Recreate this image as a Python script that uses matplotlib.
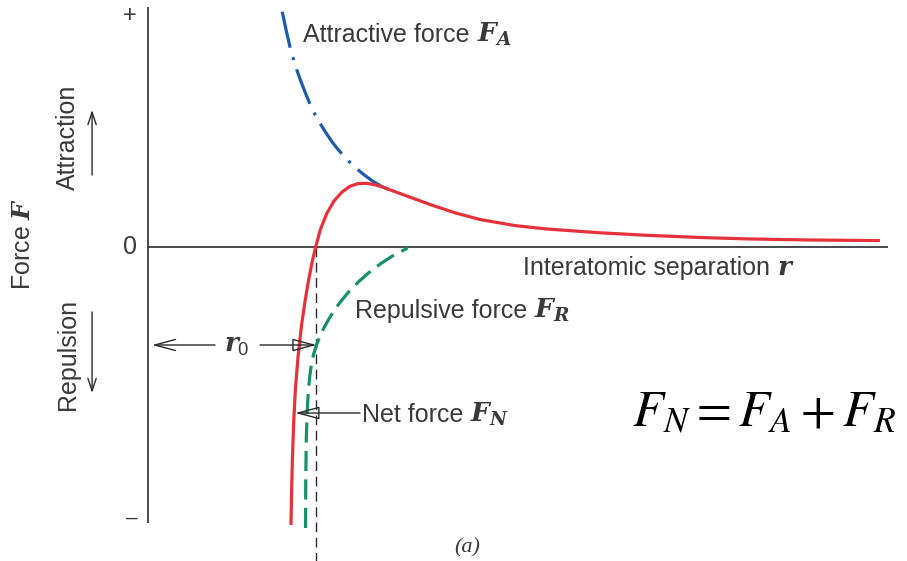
import matplotlib
matplotlib.use("Agg")
import matplotlib.pyplot as plt
from matplotlib.patches import FancyArrowPatch

plt.rcParams['lines.scale_dashes'] = False
plt.rcParams['mathtext.fontset'] = 'custom'
plt.rcParams['mathtext.it'] = 'DejaVu Serif:italic:bold'
plt.rcParams['mathtext.rm'] = 'Liberation Sans'
plt.rcParams['mathtext.bf'] = 'DejaVu Serif:bold'

# ---- data (arbitrary units: r0 = 1) ----
net_r = [0.851, 0.855, 0.860, 0.867, 0.877, 0.893, 0.914, 0.936, 0.956, 0.977,
         0.998, 1.025, 1.064, 1.107, 1.155, 1.202, 1.250, 1.298, 1.345, 1.393,
         1.440, 1.500, 1.560, 1.679, 1.827, 1.976, 2.185, 2.375, 2.690, 2.970,
         3.286, 3.565, 3.940, 4.357]
net_F = [-5.56, -4.86, -4.20, -3.52, -2.86, -2.20, -1.56, -1.06, -0.66, -0.30,
         0.00, 0.34, 0.67, 0.92, 1.10, 1.214, 1.268, 1.274, 1.25, 1.204,
         1.144, 1.07, 0.996, 0.85, 0.684, 0.55, 0.428, 0.36, 0.284, 0.234,
         0.19, 0.162, 0.14, 0.128]

att_r = [0.799, 0.821, 0.845, 0.863, 0.885, 0.905, 0.935, 0.964, 0.994, 1.024,
         1.060, 1.095, 1.131, 1.167, 1.202, 1.242, 1.286, 1.333, 1.387, 1.452]
att_F = [4.706, 4.354, 4.006, 3.79, 3.55, 3.36, 3.096, 2.86, 2.652, 2.474,
         2.28, 2.106, 1.952, 1.814, 1.692, 1.566, 1.444, 1.328, 1.218, 1.12]

rep_r = [0.938, 0.939, 0.942, 0.948, 0.955, 0.963, 0.973, 0.986, 1.003, 1.024,
         1.050, 1.080, 1.114, 1.154, 1.199, 1.252, 1.312, 1.382, 1.455, 1.546]
rep_F = [-5.62, -4.66, -3.86, -3.26, -2.86, -2.58, -2.34, -2.14, -1.96, -1.78,
         -1.60, -1.42, -1.24, -1.06, -0.88, -0.70, -0.52, -0.34, -0.18, -0.02]

r0 = 1.0
r_max = 4.405
F_top, F_bottom = 4.80, -5.52

TEXT = '#3a3a3a'
RED = '#e6323a'
BLUE = '#1f5ca8'
GREEN = '#17906c'

fig = plt.figure(figsize=(9.07, 5.61), dpi=100)
ax = fig.add_axes([0, 0, 1, 1])
ax.set_xlim(-0.881, 4.518)
ax.set_ylim(-6.28, 4.94)
ax.axis('off')

# axes lines
ax.plot([0, 0], [F_bottom, F_top], color='#2a2a2a', lw=1.2, solid_capstyle='butt')
ax.plot([0, r_max], [0, 0], color='#2a2a2a', lw=1.2, solid_capstyle='butt')
ax.plot([r0, r0], [0, -6.3], color='#2a2a2a', lw=1.0, dashes=(7, 4))

# curves
ax.plot(att_r, att_F, color=BLUE, lw=2.3, dashes=(26.6, 7.0, 2.2, 7.0),
        dash_capstyle='butt', solid_joinstyle='round', zorder=3)
ax.plot(rep_r, rep_F, color=GREEN, lw=2.3, dashes=(14.5, 6), dash_capstyle='butt',
        zorder=3)
ax.plot(net_r, net_F, color=RED, lw=2.3, solid_capstyle='butt',
        solid_joinstyle='round', zorder=4)

# tick marks as text
fs = 18
ax.text(-0.107, 4.62, '+', fontsize=17, color=TEXT, ha='center', va='center',
        family='Liberation Sans')
ax.text(-0.107, 0.0, '0', fontsize=fs, color=TEXT, ha='center', va='center',
        family='Liberation Sans')
ax.text(-0.095, -5.42, '\u2013', fontsize=15, color=TEXT, ha='center', va='center',
        family='Liberation Sans')

def label(x, y, s, **kw):
    return ax.text(x, y, s, fontsize=fs, color=TEXT, family='Liberation Sans',
                   math_fontfamily='custom', **kw)

def label_sym(x, y, s, sym):
    t = label(x, y, s, ha='left', va='baseline')
    ax.annotate(sym, xy=(1, y), xycoords=(t, 'data'), xytext=(5, 0),
                textcoords='offset points', ha='left', va='baseline',
                fontsize=19, color=TEXT, math_fontfamily='custom')

label_sym(0.923, 4.10, 'Attractive force', r'$F_A$')
label_sym(2.232, -0.56, 'Interatomic separation', r'$r$')
label_sym(1.232, -1.42, 'Repulsive force', r'$F_R$')
label_sym(1.274, -3.50, 'Net force', r'$F_N$')
ax.text(0.530, -1.96, r'$r_0$', fontsize=19, color=TEXT, math_fontfamily='custom',
        ha='center', va='center')
label(-0.744, 0.06, r'Force $F$', ha='center', va='center', rotation=90)
label(-0.476, 2.20, 'Attraction', ha='center', va='center', rotation=90)
label(-0.476, -2.14, 'Repulsion', ha='center', va='center', rotation=90)

ax.text(1.899, -6.02, '(a)', fontsize=16, color=TEXT, family='Liberation Serif',
        style='italic', ha='center', va='center')

ax.text(2.881, -3.60, r'$F_N = F_A + F_R$', fontsize=36.5, color='black',
        math_fontfamily='stix', ha='left', va='baseline')

def arrow(p0, p1, style):
    a = FancyArrowPatch(p0, p1, arrowstyle=style, mutation_scale=10,
                        color='#2a2a2a', lw=1.0, fc='none', shrinkA=0, shrinkB=0,
                        zorder=5)
    ax.add_patch(a)

# Attraction / Repulsion arrows
arrow((-0.333, 1.44), (-0.333, 2.74), '->,head_length=0.9,head_width=0.3')
arrow((-0.333, -1.30), (-0.333, -2.92), '->,head_length=0.9,head_width=0.3')
# r0 arrows
arrow((0.399, -1.96), (0.024, -1.96), '->,head_length=1.5,head_width=0.4')
arrow((0.667, -1.96), (1.003, -1.96), '-|>,head_length=1.5,head_width=0.4')
# Net force arrow
arrow((1.262, -3.32), (0.877, -3.32), '-|>,head_length=1.5,head_width=0.4')

fig.savefig('out.png', dpi=100, facecolor='white')
